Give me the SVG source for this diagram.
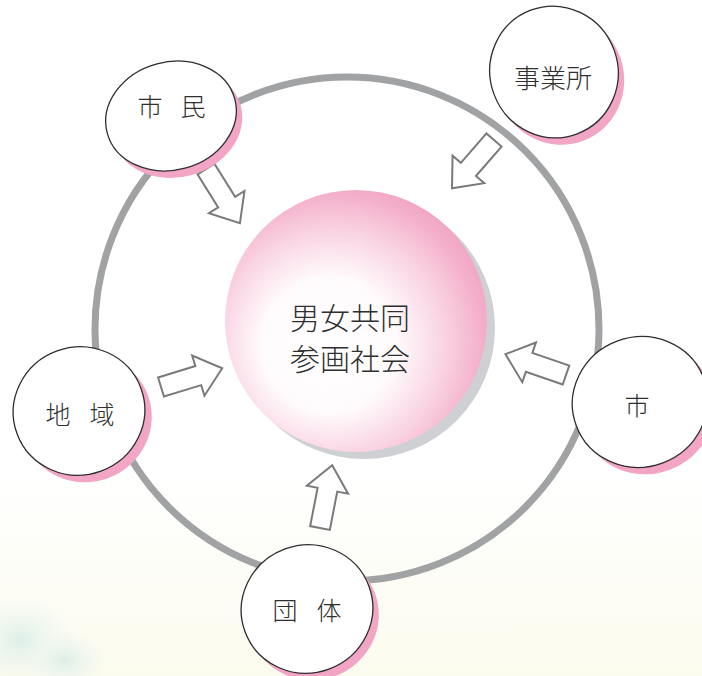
<svg xmlns="http://www.w3.org/2000/svg" width="702" height="676" viewBox="0 0 702 676">
<defs>
<linearGradient id="bg" x1="0" y1="0" x2="0" y2="1">
<stop offset="0" stop-color="#ffffff"/>
<stop offset="0.7" stop-color="#ffffff"/>
<stop offset="1" stop-color="#fbfbee"/>
</linearGradient>
<radialGradient id="pinkball" cx="0.42" cy="0.58" r="0.64" fx="0.38" fy="0.6">
<stop offset="0" stop-color="#ffffff"/>
<stop offset="0.4" stop-color="#fffbfd"/>
<stop offset="0.68" stop-color="#f9d2e1"/>
<stop offset="0.88" stop-color="#f4b0cb"/>
<stop offset="1" stop-color="#f0a0c2"/>
</radialGradient>
<radialGradient id="deco" cx="0.5" cy="0.5" r="0.5">
<stop offset="0" stop-color="#d5ece6"/>
<stop offset="1" stop-color="#eef7f2" stop-opacity="0"/>
</radialGradient>
<path id="arr" d="M0,-10 L39,-10 L39,-21 L64,0 L39,21 L39,10 L0,10 Z"/>
</defs>
<style>
.ring{fill:none;stroke:#a0a2a4;stroke-width:7}
.arrow{fill:#ffffff;stroke:#7a7a7a;stroke-width:2;stroke-linejoin:miter}
.shadow{fill:#f3a5c6}
.node{fill:#ffffff;stroke:#2e2e2e;stroke-width:1.3}
.lbl{font-family:"Noto Sans CJK JP","Noto Sans",sans-serif;font-weight:300;fill:#2f2f2f;text-anchor:middle;dominant-baseline:central}
</style>
<rect x="0" y="0" width="702" height="676" fill="url(#bg)"/>
<g id="decoration" opacity="0.8">
<ellipse cx="20" cy="640" rx="55" ry="45" fill="url(#deco)"/>
<ellipse cx="65" cy="660" rx="40" ry="30" fill="url(#deco)"/>
</g>
<g id="connectors">
<circle class="ring" cx="347" cy="329" r="252"/>
<use href="#arr" class="arrow" transform="translate(206,169) rotate(58)"/>
<use href="#arr" class="arrow" transform="translate(494,140) rotate(131)"/>
<use href="#arr" class="arrow" transform="translate(161,387) rotate(-17)"/>
<use href="#arr" class="arrow" transform="translate(566,375) rotate(199)"/>
<use href="#arr" class="arrow" transform="translate(320,528) rotate(-79)"/>
</g>
<g id="center">
<circle cx="364" cy="328" r="131" fill="#cfd0d3"/>
<circle cx="356" cy="321" r="131" fill="url(#pinkball)"/>
<text class="lbl" x="350" y="316" font-size="30">男女共同</text>
<text class="lbl" x="350" y="357" font-size="30">参画社会</text>
</g>
<g id="shimin">
<ellipse class="shadow" cx="177" cy="123" rx="66" ry="54" transform="rotate(-15 177 123)"/>
<ellipse class="node" cx="171" cy="116" rx="66" ry="54" transform="rotate(-15 171 116)"/>
<text class="lbl" x="150 193" y="105" font-size="25">市民</text>
</g>
<g id="jigyousho">
<ellipse class="shadow" cx="560" cy="79" rx="64" ry="66" transform="rotate(-20 560 79)"/>
<ellipse class="node" cx="554" cy="72" rx="64" ry="66" transform="rotate(-20 554 72)"/>
<text class="lbl" x="553" y="76" font-size="26">事業所</text>
</g>
<g id="chiiki">
<ellipse class="shadow" cx="86" cy="418" rx="66" ry="64" transform="rotate(-20 86 418)"/>
<ellipse class="node" cx="79" cy="411" rx="66" ry="64" transform="rotate(-20 79 411)"/>
<text class="lbl" x="58 102" y="413" font-size="25">地域</text>
</g>
<g id="shi">
<ellipse class="shadow" cx="647" cy="409" rx="68" ry="65" transform="rotate(-20 647 409)"/>
<ellipse class="node" cx="640" cy="402" rx="68" ry="65" transform="rotate(-20 640 402)"/>
<text class="lbl" x="637" y="404" font-size="25">市</text>
</g>
<g id="dantai">
<ellipse class="shadow" cx="313" cy="616" rx="66" ry="64" transform="rotate(-20 313 616)"/>
<ellipse class="node" cx="307" cy="609" rx="66" ry="64" transform="rotate(-20 307 609)"/>
<text class="lbl" x="285 329" y="609" font-size="25">団体</text>
</g>
</svg>
